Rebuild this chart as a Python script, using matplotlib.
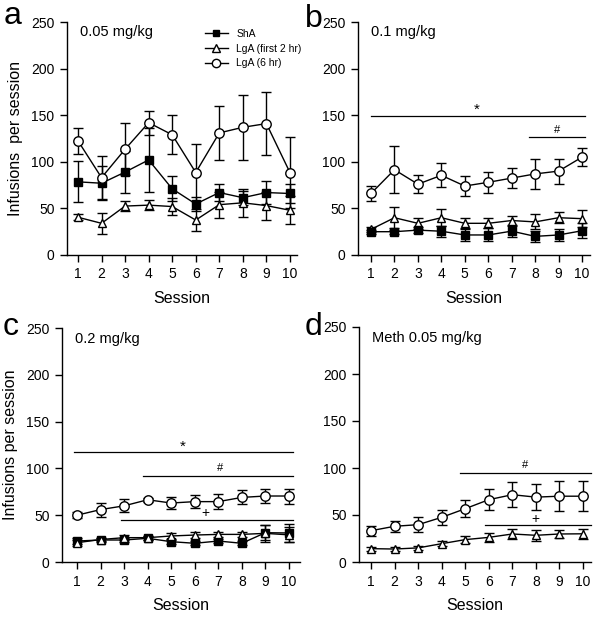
import matplotlib
matplotlib.use("Agg")
import matplotlib.pyplot as plt
import numpy as np
from matplotlib.lines import Line2D

plt.rcParams['font.family'] = ['Liberation Sans', 'DejaVu Sans']

sessions = np.arange(1, 11)
xtick_labels = [str(s) for s in sessions]
yticks = [0, 50, 100, 150, 200, 250]

# Panel a: 0.05 mg/kg
a_sha = [78.5, 77, 89, 102, 71, 54.7, 67, 61.5, 67, 66]
a_sha_err = [22, 18, 23, 34, 13.5, 8, 9, 7.5, 12.5, 10]
a_lg2 = [40.5, 34, 52.5, 53.5, 52, 37.5, 54, 56, 53, 48]
a_lg2_err = [3, 11, 5.5, 5.5, 9, 11.5, 14, 15, 15, 15]
a_lg6 = [122.5, 83, 113.5, 142, 129, 88.5, 131, 137, 141, 88.5]
a_lg6_err = [14, 23, 28, 13, 21, 31, 29, 35, 34, 38]

# Panel b: 0.1 mg/kg
b_sha = [25, 25, 26.7, 25.5, 21.5, 21.5, 25.6, 20, 21.5, 26]
b_sha_err = [2, 2, 3, 6, 6, 7, 6, 6, 6, 8]
b_lg2 = [27.5, 40, 34, 40, 34, 34, 37, 35.5, 40, 39]
b_lg2_err = [3, 11, 6, 9, 5.5, 5.5, 5, 8, 6, 9]
b_lg6 = [66, 91.5, 76, 85.5, 74, 78, 82.5, 87, 90, 105]
b_lg6_err = [8, 25, 10, 13, 11, 11, 11, 16, 13.5, 9.5]

# Panel c: 0.2 mg/kg
c_sha = [22.4, 23.5, 23.5, 25.3, 21.7, 20, 22.4, 20, 31.3, 31]
c_sha_err = [3, 2, 2, 2, 2, 2, 2, 2, 8, 10]
c_lg2 = [20.6, 24, 26, 26, 27.8, 28.8, 29.5, 29.5, 30.6, 29]
c_lg2_err = [3, 2, 3, 2, 3, 3, 3, 3, 9, 8]
c_lg6 = [50, 56, 60, 66.5, 63, 64.5, 64.5, 69, 70.5, 70.5]
c_lg6_err = [3, 7.5, 7, 2, 6, 7, 8, 7.5, 7, 8]

# Panel d: Meth 0.05 mg/kg
d_lg2 = [14.2, 13.8, 15, 19.5, 23.8, 26.2, 29.8, 28.4, 29.8, 30]
d_lg2_err = [2, 2, 2, 3, 4, 5, 5, 6, 4, 5]
d_lg6 = [33.3, 38, 39.7, 47.5, 56.7, 66.3, 71.6, 69, 70, 70]
d_lg6_err = [5.5, 6, 8, 8, 9, 11, 13, 14, 16, 16]

legend_labels = ['ShA', 'LgA (first 2 hr)', 'LgA (6 hr)']
panel_titles = ['0.05 mg/kg', '0.1 mg/kg', '0.2 mg/kg', 'Meth 0.05 mg/kg']
panel_letters = ['a', 'b', 'c', 'd']

# significance bars: (x_start, x_end, y, symbol, text_x, text_y, fontsize)
sig_b = [(1.0, 10.13, 149.5, '*', 5.5, 156, 11), (7.74, 10.13, 126.6, '#', 8.94, 134, 8)]
sig_c = [(0.87, 10.17, 117.2, '*', 5.5, 123, 11), (3.8, 10.17, 92.2, '#', 7.07, 100, 8),
         (2.85, 10.17, 44.9, '+', 6.47, 52, 10)]
sig_d = [(4.78, 10.34, 95.2, '#', 7.54, 103.4, 8), (5.84, 10.34, 39.4, '+', 7.96, 45.5, 10)]

W, H = 601, 618
fig = plt.figure(figsize=(W / 100, H / 100), dpi=100)

def ax_at(left, right, top, bottom):
    return fig.add_axes([left / W, 1 - bottom / H, (right - left) / W, (bottom - top) / H])

axa = ax_at(67, 297, 22, 255)
axb = ax_at(358, 590, 22, 255)
axc = ax_at(62, 300, 328, 562)
axd = ax_at(359, 591, 327, 562)

xlims = [(0.533, 10.3), (0.445, 10.34), (0.363, 10.47), (0.49, 10.34)]

def series(ax, y, err, marker, face, ms):
    ax.errorbar(sessions, y, yerr=err, color='black', ecolor='black', elinewidth=1.0,
                capsize=3.5, capthick=1.0, linewidth=1.0, marker=marker, markersize=ms,
                markerfacecolor=face, markeredgecolor='black', markeredgewidth=1.0,
                zorder=3)

for i, ax in enumerate([axa, axb, axc, axd]):
    ax.set_xlim(*xlims[i])
    ax.set_ylim(0, 250)
    ax.spines['top'].set_visible(False)
    ax.spines['right'].set_visible(False)
    for s in ['left', 'bottom']:
        ax.spines[s].set_linewidth(1.0)
    ax.set_xticks(sessions)
    ax.set_xticklabels(xtick_labels)
    ax.set_yticks(yticks)
    ax.tick_params(direction='out', length=5, width=1, labelsize=10, pad=4)
    ax.set_xlabel('Session', fontsize=11.5, labelpad=7)
    ax.text(0.055, 0.985, panel_titles[i], transform=ax.transAxes, fontsize=10.5,
            va='top', ha='left')

axa.set_ylabel('Infusions  per session', fontsize=11.5, labelpad=6)
axc.set_ylabel('Infusions per session', fontsize=11.5, labelpad=6)

SQ, TR, CI = 5.2, 6.2, 6.8

series(axa, a_sha, a_sha_err, 's', 'black', SQ)
series(axa, a_lg2, a_lg2_err, '^', 'white', TR)
series(axa, a_lg6, a_lg6_err, 'o', 'white', CI)

series(axb, b_lg2, b_lg2_err, '^', 'white', TR)
series(axb, b_sha, b_sha_err, 's', 'black', SQ)
series(axb, b_lg6, b_lg6_err, 'o', 'white', CI)

series(axc, c_sha, c_sha_err, 's', 'black', SQ)
series(axc, c_lg2, c_lg2_err, '^', 'white', TR)
series(axc, c_lg6, c_lg6_err, 'o', 'white', CI)

series(axd, d_lg2, d_lg2_err, '^', 'white', TR)
series(axd, d_lg6, d_lg6_err, 'o', 'white', CI)

for ax, sigs in [(axb, sig_b), (axc, sig_c), (axd, sig_d)]:
    for x0, x1, yv, sym, tx, ty, fs in sigs:
        ax.plot([x0, x1], [yv, yv], color='black', linewidth=0.9, clip_on=False, zorder=2)
        ax.text(tx, ty, sym, ha='center', va='center', fontsize=fs)

# legend in panel a
handles = [Line2D([], [], color='black', lw=1, marker='s', ms=5, mfc='black', mec='black'),
           Line2D([], [], color='black', lw=1, marker='^', ms=5.5, mfc='white', mec='black'),
           Line2D([], [], color='black', lw=1, marker='o', ms=6, mfc='white', mec='black')]
axa.legend(handles, legend_labels, loc='upper left', bbox_to_anchor=(0.6, 0.97),
           frameon=False, fontsize=7.5, handlelength=2.2, handletextpad=0.8,
           labelspacing=0.45, borderpad=0, borderaxespad=0)

# panel letters
letter_pos = [(4, 24), (305, 27), (3, 335), (305, 335)]
for letter, (px, py) in zip(panel_letters, letter_pos):
    fig.text(px / W, 1 - py / H, letter, fontsize=23, ha='left', va='baseline')

fig.savefig('out.png', dpi=100)
